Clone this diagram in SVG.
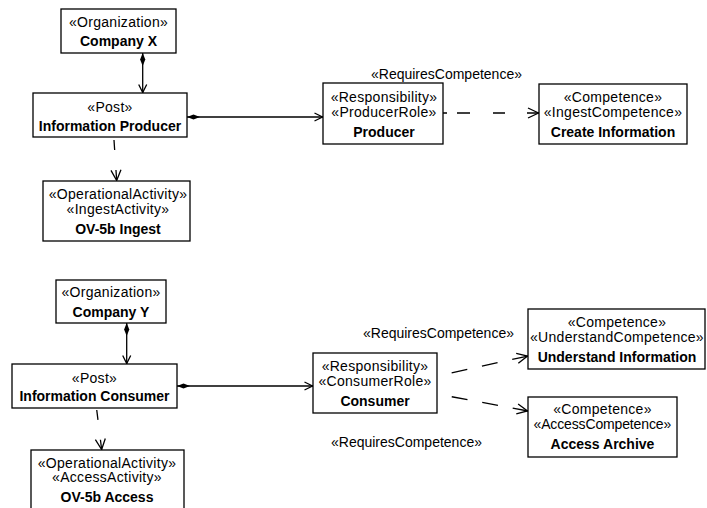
<svg xmlns="http://www.w3.org/2000/svg" width="707" height="508" viewBox="0 0 707 508">
  <style>
    .box { fill: #fff; stroke: #000; stroke-width: 1.3; }
    text { font-family: "Liberation Sans", Arial, sans-serif; font-size: 14px; fill: #000; }
    .st { text-anchor: middle; letter-spacing: 0.3px; }
    .nm { text-anchor: middle; font-weight: bold; }
    .edge { fill: none; stroke: #000; stroke-width: 1.3; }
    .comp { marker-start: url(#diamond); marker-end: url(#arrow); }
    .dep { marker-end: url(#arrowLg); }
  </style>
  <defs>
    <marker id="diamond" markerUnits="userSpaceOnUse" markerWidth="14" markerHeight="8" refX="0" refY="0" orient="auto" overflow="visible">
      <path d="M0,0 L6.5,-2.6 L13,0 L6.5,2.6 Z" fill="#000"/>
    </marker>
    <marker id="arrow" markerUnits="userSpaceOnUse" markerWidth="10" markerHeight="10" refX="0" refY="0" orient="auto" overflow="visible">
      <path d="M-8.5,-4 L-0.5,0 L-8.5,4" fill="none" stroke="#000" stroke-width="1.3"/>
    </marker>
    <marker id="arrowLg" markerUnits="userSpaceOnUse" markerWidth="12" markerHeight="12" refX="0" refY="0" orient="auto" overflow="visible">
      <path d="M-11,-5 L-0.5,0 L-11,5" fill="none" stroke="#000" stroke-width="1.3"/>
    </marker>
  </defs>

  <g id="connectors">
    <!-- composition: organization owns post, post owns responsibility -->
    <path class="edge comp" d="M142.7,53 V93"/>
    <path class="edge comp" d="M187,117 H323"/>
    <path class="edge comp" d="M126.7,323 V364"/>
    <path class="edge comp" d="M177,386 H313"/>
    <!-- dependencies -->
    <path class="edge dep" d="M113.8,137 L116.7,181" stroke-dasharray="10 20" stroke-dashoffset="27"/>
    <path class="edge dep" d="M96.5,408 L101.7,450" stroke-dasharray="10 20" stroke-dashoffset="28"/>
    <path class="edge dep" d="M443,113 H539" stroke-dasharray="4 10 13 23 12 22 40"/>
    <path class="edge dep" d="M437,376 L528,356" stroke-dasharray="16 15" stroke-dashoffset="16"/>
    <path class="edge dep" d="M437,394 L528,411" stroke-dasharray="16 15" stroke-dashoffset="16"/>
    <text x="371" y="79">«RequiresCompetence»</text>
    <text x="363" y="338">«RequiresCompetence»</text>
    <text x="331" y="447">«RequiresCompetence»</text>
  </g>

  <g id="companyX">
    <rect class="box" x="61" y="9" width="115" height="44"/>
    <text class="st" x="118.5" y="26.5">«Organization»</text>
    <text class="nm" x="118.5" y="46">Company X</text>
  </g>
  <g id="informationProducer">
    <rect class="box" x="33" y="93" width="154" height="44"/>
    <text class="st" x="110" y="112">«Post»</text>
    <text class="nm" x="110" y="130.5">Information Producer</text>
  </g>
  <g id="ingestActivity">
    <rect class="box" x="43" y="181" width="147" height="60"/>
    <text class="st" x="118" y="198.5">«OperationalActivity»</text>
    <text class="st" x="118" y="213.5">«IngestActivity»</text>
    <text class="nm" x="118" y="233.5">OV-5b Ingest</text>
  </g>
  <g id="producer">
    <rect class="box" x="323" y="83" width="120" height="61"/>
    <text class="st" x="384" y="101.5">«Responsibility»</text>
    <text class="st" x="384" y="116.5">«ProducerRole»</text>
    <text class="nm" x="384" y="136.5">Producer</text>
  </g>
  <g id="createInformation">
    <rect class="box" x="539" y="84" width="148" height="60"/>
    <text class="st" x="613" y="101.5">«Competence»</text>
    <text class="st" x="613" y="116.5">«IngestCompetence»</text>
    <text class="nm" x="613" y="136.5">Create Information</text>
  </g>

  <g id="companyY">
    <rect class="box" x="56" y="280" width="110" height="43"/>
    <text class="st" x="111" y="297">«Organization»</text>
    <text class="nm" x="111" y="316.5">Company Y</text>
  </g>
  <g id="informationConsumer">
    <rect class="box" x="12" y="364" width="165" height="44"/>
    <text class="st" x="94.5" y="382.5">«Post»</text>
    <text class="nm" x="94.5" y="401">Information Consumer</text>
  </g>
  <g id="accessActivity">
    <rect class="box" x="31" y="450" width="153" height="61"/>
    <text class="st" x="107" y="467.5">«OperationalActivity»</text>
    <text class="st" x="107" y="482">«AccessActivity»</text>
    <text class="nm" x="107" y="502">OV-5b Access</text>
  </g>
  <g id="consumer">
    <rect class="box" x="313" y="353" width="124" height="60"/>
    <text class="st" x="375" y="370.5">«Responsibility»</text>
    <text class="st" x="375" y="385.5">«ConsumerRole»</text>
    <text class="nm" x="375" y="405.5">Consumer</text>
  </g>
  <g id="understandInformation">
    <rect class="box" x="528" y="309" width="177" height="60"/>
    <text class="st" x="617" y="326.5">«Competence»</text>
    <text class="st" x="617" y="341.5">«UnderstandCompetence»</text>
    <text class="nm" x="617" y="361.5">Understand Information</text>
  </g>
  <g id="accessArchive">
    <rect class="box" x="528" y="397" width="149" height="60"/>
    <text class="st" x="602.5" y="414">«Competence»</text>
    <text class="st" x="602.5" y="429" textLength="138">«AccessCompetence»</text>
    <text class="nm" x="602.5" y="449">Access Archive</text>
  </g>
</svg>
